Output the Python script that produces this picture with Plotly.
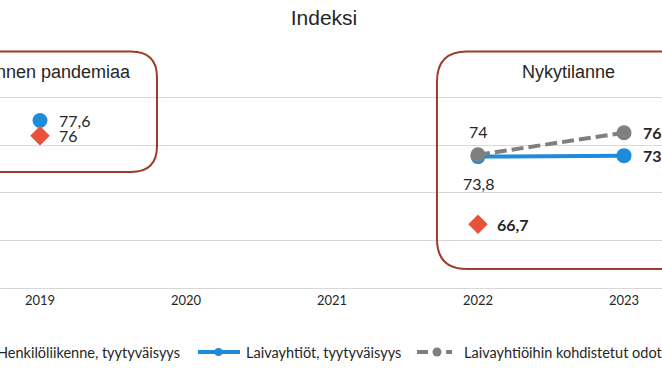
import plotly.graph_objects as go

W, H = 662, 372
ML, MR, MT, MB = 0, 0, 50, 84

years = ["2019", "2020", "2021", "2022", "2023"]
henkilo = [76, None, None, 66.7, None]
laiva = [77.6, None, None, 73.8, 73.9]
odotukset = [None, None, None, 74, 76.3]

names = ["Henkilöliikenne, tyytyväisyys", "Laivayhtiöt, tyytyväisyys",
         "Laivayhtiöihin kohdistetut odotukset"]

BLUE = "#1F8CDA"
GRAY = "#7F7F7F"
RED = "#E8523A"
BOX = "#9C3D2C"
TXT = "#262626"
FONT = "Lato"

def px(x):
    return (x - ML) / (W - ML - MR)

def py(y):
    return (H - MB - y) / (H - MT - MB)

fig = go.Figure()
fig.add_trace(go.Scatter(x=years, y=laiva, mode="lines+markers", name=names[1],
                         line=dict(color=BLUE, width=4), connectgaps=False,
                         marker=dict(size=15, color=BLUE), showlegend=False))
fig.add_trace(go.Scatter(x=years, y=odotukset, mode="lines+markers", name=names[2],
                         line=dict(color=GRAY, width=4, dash="12px,5px"),
                         marker=dict(size=15, color=GRAY), showlegend=False))
fig.add_trace(go.Scatter(x=years, y=henkilo, mode="markers", name=names[0],
                         marker=dict(size=15, color=RED, symbol="diamond"), showlegend=False))

def rounded(x0, y0, x1, y1, r):
    def P(x, y):
        return f"{px(x):.5f},{py(y):.5f}"
    return (f"M {P(x0 + r, y0)} L {P(x1 - r, y0)} Q {P(x1, y0)} {P(x1, y0 + r)} "
            f"L {P(x1, y1 - r)} Q {P(x1, y1)} {P(x1 - r, y1)} L {P(x0 + r, y1)} "
            f"Q {P(x0, y1)} {P(x0, y1 - r)} L {P(x0, y0 + r)} Q {P(x0, y0)} {P(x0 + r, y0)} Z")

shapes = [
    dict(type="path", xref="paper", yref="paper", path=rounded(-60, 51.5, 157, 172, 26),
         line=dict(color=BOX, width=2)),
    dict(type="path", xref="paper", yref="paper", path=rounded(437, 51.5, 700, 269, 30),
         line=dict(color=BOX, width=2)),
    # legend symbols
    dict(type="line", xref="paper", yref="paper", x0=px(198), x1=px(240), y0=py(352), y1=py(352),
         line=dict(color=BLUE, width=4)),
    dict(type="circle", xref="paper", yref="paper", x0=px(214.5), x1=px(222.5),
         y0=py(348), y1=py(356), fillcolor=BLUE, line=dict(color=BLUE, width=0)),
    dict(type="line", xref="paper", yref="paper", x0=px(417), x1=px(428), y0=py(352), y1=py(352),
         line=dict(color=GRAY, width=4)),
    dict(type="line", xref="paper", yref="paper", x0=px(446), x1=px(452), y0=py(352), y1=py(352),
         line=dict(color=GRAY, width=4)),
    dict(type="circle", xref="paper", yref="paper", x0=px(432.5), x1=px(441.5),
         y0=py(347.5), y1=py(356.5), fillcolor=GRAY, line=dict(color=GRAY, width=0)),
]

ann = []
def lab(year, y, text, xs=0, ys=0, xa="left", bold=False, size=16):
    ann.append(dict(x=years.index(year), y=y, xref="x", yref="y",
                    text=f"<b>{text}</b>" if bold else text,
                    showarrow=False, xshift=xs, yshift=ys, xanchor=xa, yanchor="middle",
                    font=dict(family=FONT, size=size, color=TXT)))

lab("2019", laiva[0], "77,6", xs=17)
lab("2019", henkilo[0], "76", xs=17)
lab("2022", odotukset[3], "74", ys=23, xa="center")
lab("2022", laiva[3], "73,8", ys=-27, xa="center")
lab("2022", henkilo[3], "66,7", xs=17, bold=True)
lab("2023", odotukset[4], "76,3", xs=17, bold=True)
lab("2023", laiva[4], "73,9", xs=17, bold=True)

ann.append(dict(x=px(133), y=py(72), xref="paper", yref="paper", text="Ennen pandemiaa",
                showarrow=False, xanchor="right", yanchor="middle",
                font=dict(family="Liberation Sans", size=18, color=TXT)))
ann.append(dict(x=px(568), y=py(72), xref="paper", yref="paper", text="Nykytilanne",
                showarrow=False, xanchor="center", yanchor="middle",
                font=dict(family="Liberation Sans", size=18, color=TXT)))
# legend texts
ann.append(dict(x=px(182), y=py(352), xref="paper", yref="paper", text=names[0],
                showarrow=False, xanchor="right", yanchor="middle",
                font=dict(family=FONT, size=14.5, color=TXT)))
ann.append(dict(x=px(244), y=py(352), xref="paper", yref="paper", text=names[1],
                showarrow=False, xanchor="left", yanchor="middle",
                font=dict(family=FONT, size=14.5, color=TXT)))
ann.append(dict(x=px(462), y=py(352), xref="paper", yref="paper", text=names[2],
                showarrow=False, xanchor="left", yanchor="middle",
                font=dict(family=FONT, size=14.5, color=TXT)))

fig.update_layout(
    width=W, height=H, margin=dict(l=ML, r=MR, t=MT, b=MB),
    paper_bgcolor="white", plot_bgcolor="white",
    title=dict(text="Indeksi", x=324 / W, xanchor="center", y=1 - 18 / H, yanchor="middle",
               font=dict(family="Liberation Sans", size=21, color=TXT)),
    xaxis=dict(type="category", categoryorder="array", categoryarray=years,
               range=[-40 / 146, -40 / 146 + W / 146], showgrid=False, showline=True,
               linecolor="#d9d9d9", linewidth=1, ticks="",
               tickfont=dict(family=FONT, size=13, color=TXT)),
    yaxis=dict(range=[60, 85], dtick=5, showticklabels=False, gridcolor="#d9d9d9",
               zeroline=False, showline=False),
    shapes=shapes, annotations=ann, showlegend=False,
)
fig.write_html("out.html", config={"displayModeBar": False},
               post_script="document.body.style.margin='0px';")
